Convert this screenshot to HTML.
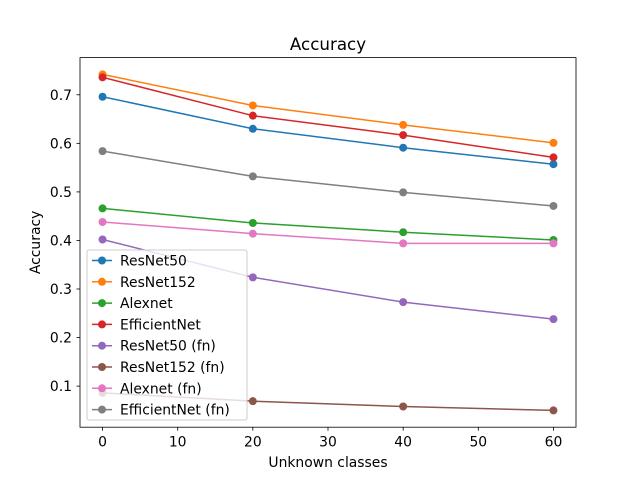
<!DOCTYPE html>
<html><head><meta charset="utf-8"><style>
body{margin:0;background:#fff;}
svg{display:block;font-family:"DejaVu Sans","Liberation Sans",sans-serif;}
</style></head><body>
<svg id="chart" width="640" height="480" viewBox="0 0 640 480">
<rect width="640" height="480" fill="#fff"/>
<text x="328" y="50" font-size="16.7" text-anchor="middle">Accuracy</text>
<g id="plot"></g>
</svg>
<script>
const categories=[0,20,40,60];
const seriesNames=["ResNet50","ResNet152","Alexnet","EfficientNet","ResNet50 (fn)","ResNet152 (fn)","Alexnet (fn)","EfficientNet (fn)"];
const colors=["#1f77b4","#ff7f0e","#2ca02c","#d62728","#9467bd","#8c564b","#e377c2","#7f7f7f"];
const resnet50=[0.696,0.630,0.591,0.557];
const resnet152=[0.742,0.678,0.638,0.601];
const alexnet=[0.466,0.436,0.417,0.401];
const efficientnet=[0.736,0.657,0.617,0.571];
const resnet50fn=[0.402,0.324,0.273,0.238];
const resnet152fn=[0.086,0.069,0.058,0.050];
const alexnetfn=[0.438,0.414,0.394,0.394];
const efficientnetfn=[0.584,0.532,0.499,0.471];
const xTicks=[0,10,20,30,40,50,60];
const yTicks=[0.1,0.2,0.3,0.4,0.5,0.6,0.7];

const series=[resnet50,resnet152,alexnet,efficientnet,resnet50fn,resnet152fn,alexnetfn,efficientnetfn];
const L=80,R=576,T=57.6,B=427.2;
const allV=series.flat();
const ymin0=Math.min(...allV),ymax0=Math.max(...allV),pad=(ymax0-ymin0)*0.05;
const ylo=ymin0-pad,yhi=ymax0+pad;
const xlo=-3,xhi=63;
const xs=v=>L+(v-xlo)/(xhi-xlo)*(R-L);
const ys=v=>B-(v-ylo)/(yhi-ylo)*(B-T);
const NS="http://www.w3.org/2000/svg";
const g=document.getElementById('plot');
function mk(tag,attrs,parent){const e=document.createElementNS(NS,tag);for(const k in attrs)e.setAttribute(k,attrs[k]);(parent||g).appendChild(e);return e;}

xTicks.forEach(t=>{
  const x=xs(t);
  const l=mk('line',{x1:x,x2:x,y1:B,y2:B+3.5,stroke:'#000','stroke-width':0.8});
  
  
  const tx=mk('text',{x:x,y:B+19.5,'font-size':13.9,'text-anchor':'middle'});tx.textContent=t;
  
  
});
yTicks.forEach(t=>{
  const y=ys(t);
  const l=mk('line',{x1:L-3.5,x2:L,y1:y,y2:y,stroke:'#000','stroke-width':0.8});
  
  
  const tx=mk('text',{x:L-8,y:y+5,'font-size':13.9,'text-anchor':'end'});tx.textContent=t.toFixed(1);
  
  
});
const xl=mk('text',{x:(L+R)/2,y:467,'font-size':13.9,'text-anchor':'middle'});xl.textContent='Unknown classes';


const yl=mk('text',{x:0,y:0,'font-size':13.9,'text-anchor':'middle',transform:`translate(40,${(T+B)/2}) rotate(-90)`});yl.textContent='Accuracy';



series.forEach((s,i)=>{
  const p=mk('polyline',{points:s.map((v,j)=>xs(categories[j])+','+ys(v)).join(' '),fill:'none',stroke:colors[i],'stroke-width':1.5});
  
  
  s.forEach((v,j)=>{
    const c=mk('circle',{cx:xs(categories[j]),cy:ys(v),r:4,fill:colors[i]});
    
    
  });
});
const frame=mk('rect',{x:L,y:T,width:R-L,height:B-T,fill:'none',stroke:'#000','stroke-width':0.8});



const lg=mk('g',{});


mk('rect',{x:87,y:250,width:160,height:170,rx:2,fill:'#fff','fill-opacity':0.8,stroke:'#ccc','stroke-width':1},lg);
seriesNames.forEach((n,i)=>{
  const y=260.5+i*21.3;
  const e=mk('g',{},lg);
  
  
  mk('line',{x1:92,x2:112,y1:y,y2:y,stroke:colors[i],'stroke-width':1.5},e);
  mk('circle',{cx:102,cy:y,r:4,fill:colors[i]},e);
  const t=mk('text',{x:120,y:y+5,'font-size':13.9},e);t.textContent=n;
});
</script>
</body></html>
